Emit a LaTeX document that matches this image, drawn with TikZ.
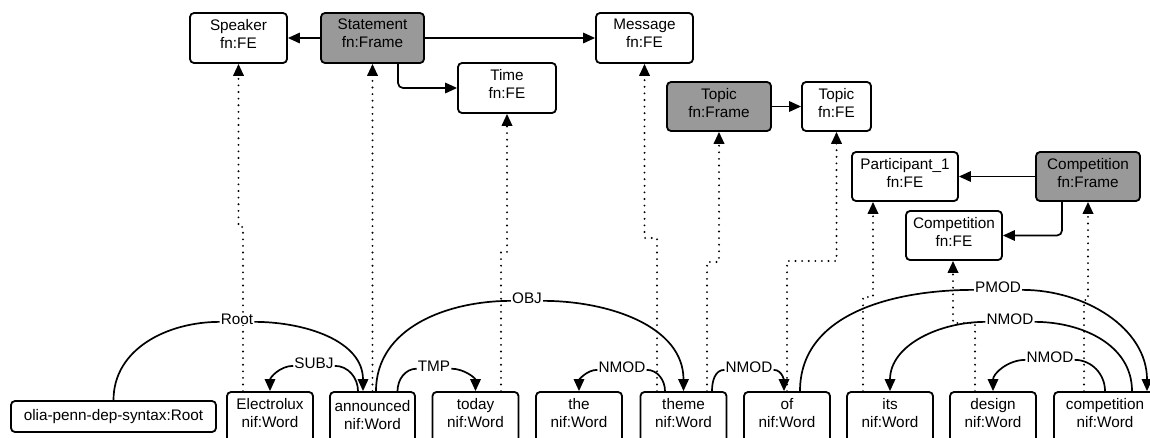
\documentclass[tikz,border=0pt]{standalone}
\usepackage{fontspec}
\setmainfont{Liberation Sans}
\usetikzlibrary{arrows.meta}
\definecolor{framegray}{HTML}{999999}
\begin{document}
\begin{tikzpicture}[x=1pt,y=-1pt,
  font=\fontsize{15.3}{18}\selectfont,
  box/.style={draw, line width=1.8pt, rounded corners=4pt, fill=white, inner sep=0pt},
  frame/.style={box, fill=framegray},
  txt/.style={inner sep=0pt, align=center, anchor=north},
  lbl/.style={fill=white, inner xsep=1pt, inner ysep=0.5pt, anchor=base},
  tip/.style={-{Triangle[length=12pt,width=10.5pt]}},
  rel/.style={line width=1.7pt, tip},
  dep/.style={line width=2.1pt, line cap=round, dash pattern=on 0pt off 6.6pt, tip},
  arc/.style={line width=1.7pt, tip},
]
\useasboundingbox (0,0) rectangle (1150,437);
\clip (0,0) rectangle (1150,437);

% ---- top layer: frames and frame elements
\node[box, minimum width=97pt, minimum height=50pt] (speaker) at (238.5,38) {};
\node[txt] (speaker-t) at ([yshift=-7pt]speaker.north) {Speaker\\fn:FE};
\node[frame, minimum width=103pt, minimum height=50pt] (statement) at (372.5,38) {};
\node[txt] (statement-t) at ([yshift=-7pt]statement.north) {Statement\\fn:Frame};
\node[box, minimum width=97pt, minimum height=50pt] (message) at (644.5,38) {};
\node[txt] (message-t) at ([yshift=-7pt]message.north) {Message\\fn:FE};
\node[box, minimum width=98pt, minimum height=50pt] (time) at (507,88) {};
\node[txt] (time-t) at ([yshift=-7pt]time.north) {Time\\fn:FE};
\node[frame, minimum width=104pt, minimum height=49pt] (topicframe) at (719,106.5) {};
\node[txt] (topicframe-t) at ([yshift=-7pt]topicframe.north) {Topic\\fn:Frame};
\node[box, minimum width=69pt, minimum height=49pt] (topicfe) at (836.5,106.5) {};
\node[txt] (topicfe-t) at ([yshift=-7pt]topicfe.north) {Topic\\fn:FE};
\node[box, minimum width=106pt, minimum height=49pt] (part) at (905,176.5) {};
\node[txt] (part-t) at ([yshift=-7pt]part.north) {Participant\_1\\fn:FE};
\node[frame, minimum width=104pt, minimum height=49pt] (compframe) at (1088,176.5) {};
\node[txt] (compframe-t) at ([yshift=-7pt]compframe.north) {Competition\\fn:Frame};
\node[box, minimum width=96pt, minimum height=49pt] (compfe) at (954,235.5) {};
\node[txt] (compfe-t) at ([yshift=-7pt]compfe.north) {Competition\\fn:FE};

% ---- bottom layer: words
\node[box, minimum width=205pt, minimum height=31pt] (root) at (113.5,416.5) {olia-penn-dep-syntax:Root};
\node[box, minimum width=86pt, minimum height=56pt] (w1) at (270,420) {};
\node[txt] (w1-t) at ([yshift=-7pt]w1.north) {Electrolux\\nif:Word};
\node[box, minimum width=85pt, minimum height=56pt] (w2) at (372.5,420) {};
\node[txt] (w2-t) at ([yshift=-9pt]w2.north) {announced\\nif:Word};
\node[box, minimum width=86pt, minimum height=56pt] (w3) at (475.5,420) {};
\node[txt] (w3-t) at ([yshift=-7pt]w3.north) {today\\nif:Word};
\node[box, minimum width=86pt, minimum height=56pt] (w4) at (579,420) {};
\node[txt] (w4-t) at ([yshift=-7pt]w4.north) {the\\nif:Word};
\node[box, minimum width=86pt, minimum height=56pt] (w5) at (683.5,420) {};
\node[txt] (w5-t) at ([yshift=-7pt]w5.north) {theme\\nif:Word};
\node[box, minimum width=86pt, minimum height=56pt] (w6) at (787,420) {};
\node[txt] (w6-t) at ([yshift=-7pt]w6.north) {of\\nif:Word};
\node[box, minimum width=86pt, minimum height=56pt] (w7) at (890,420) {};
\node[txt] (w7-t) at ([yshift=-7pt]w7.north) {its\\nif:Word};
\node[box, minimum width=86pt, minimum height=56pt] (w8) at (993,420) {};
\node[txt] (w8-t) at ([yshift=-7pt]w8.north) {design\\nif:Word};
\node[box, minimum width=102pt, minimum height=56pt] (w9) at (1105,420) {};
\node[txt] (w9-t) at ([yshift=-7pt]w9.north) {competition\\nif:Word};

% ---- frame relations
\draw[rel] (statement.west) -- (speaker.east);
\draw[rel] (statement.east) -- (message.west);
\draw[rel, rounded corners=5pt] ([xshift=25.5pt]statement.south) |- (time.west);
\draw[rel] (topicframe.east) -- (topicfe.west);
\draw[rel] (compframe.west) -- (part.east);
\draw[rel, rounded corners=5pt] ([xshift=-26pt]compframe.south) |- (compfe.east);

% ---- dotted links word -> frame / element
\coordinate (pa) at ([xshift=-32pt]part.south);
\coordinate (ca) at ([xshift=-1pt]compfe.south);
\draw[dep] ([xshift=-27pt]w1.north) |- (speaker.south |- 0,227) -- (speaker.south);
\draw[dep] (w2.north) -- (statement.south);
\draw[dep] ([xshift=25.5pt]w3.north) |- (time.south |- 0,252) -- (time.south);
\draw[dep] ([xshift=-26.5pt]w5.north) |- (message.south |- 0,238) -- (message.south);
\draw[dep] ([xshift=23.5pt]w5.north) |- (topicframe.south |- 0,262) -- (topicframe.south);
\draw[dep] (w6.north) |- (topicfe.south |- 0,261) -- (topicfe.south);
\draw[dep] ([xshift=-27pt]w7.north) |- (pa |- 0,297) -- (pa);
\draw[dep] ([xshift=-18pt]w8.north) |- (ca |- 0,323) -- (ca);
\draw[dep] ([xshift=-21pt]w9.north) |- (compframe.south |- 0,300) -- (compframe.south);

% ---- dependency labels
\node[lbl] (lRoot) at (237,324) {Root};
\node[lbl] (lSUBJ) at (314,368) {SUBJ};
\node[lbl] (lTMP) at (434,371) {TMP};
\node[lbl] (lOBJ) at (527,303) {OBJ};
\node[lbl] (lN1) at (622,372) {NMOD};
\node[lbl] (lN2) at (749,372) {NMOD};
\node[lbl] (lP) at (998,292) {PMOD};
\node[lbl] (lN3) at (1010,324) {NMOD};
\node[lbl] (lN4) at (1050,362) {NMOD};

% ---- dependency arcs
\draw[arc] (root.north) to[out=90,in=180] ([yshift=3pt]lRoot.south west)
  ([yshift=3pt]lRoot.south east) to[out=0,in=90] ([xshift=-9.5pt]w2.north);
\draw[arc] ([xshift=-14.5pt]w2.north) to[out=90,in=0] ([yshift=3pt]lSUBJ.south east)
  ([yshift=3pt]lSUBJ.south west) to[out=180,in=90] (w1.north);
\draw[arc] ([xshift=25pt]w2.north) to[out=90,in=180] ([yshift=3pt]lTMP.south west)
  ([yshift=3pt]lTMP.south east) to[out=0,in=90] (w3.north);
\draw[arc] ([xshift=3.5pt]w2.north) to[out=90,in=180] ([yshift=3pt]lOBJ.south west)
  ([yshift=3pt]lOBJ.south east) to[out=0,in=90] (w5.north);
\draw[arc] ([xshift=-18.5pt]w5.north) to[out=90,in=0] ([yshift=3pt]lN1.south east)
  ([yshift=3pt]lN1.south west) to[out=180,in=90] (w4.north);
\draw[arc] ([xshift=28.5pt]w5.north) to[out=90,in=180] ([yshift=3pt]lN2.south west)
  ([yshift=3pt]lN2.south east) to[out=0,in=90] ([xshift=-3pt]w6.north);
\draw[arc] ([xshift=13pt]w6.north) to[out=90,in=180] ([yshift=3pt]lP.south west)
  ([yshift=3pt]lP.south east) to[out=0,in=90] ([xshift=42pt]w9.north);
\draw[arc] ([xshift=27pt]w9.north) to[out=90,in=0] ([yshift=3pt]lN3.south east)
  ([yshift=3pt]lN3.south west) to[out=180,in=90] (w7.north);
\draw[arc] (w9.north) to[out=90,in=0] ([yshift=3pt]lN4.south east)
  ([yshift=3pt]lN4.south west) to[out=180,in=90] (w8.north);
\end{tikzpicture}
\end{document}
